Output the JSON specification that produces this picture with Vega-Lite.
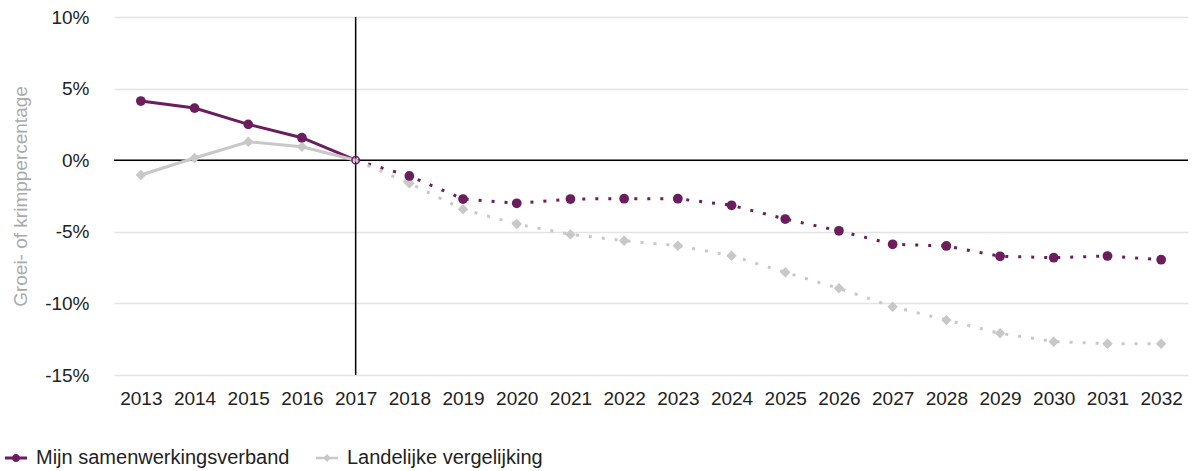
{
  "$schema": "https://vega.github.io/schema/vega-lite/v6.json",
  "autosize": "none",
  "width": 1074,
  "height": 358,
  "padding": {"left": 114, "top": 17, "right": 7, "bottom": 96},
  "background": "white",
  "config": {
    "font": "Liberation Sans",
    "view": {"stroke": null},
    "axis": {"labelFont": "Liberation Sans", "titleFont": "Liberation Sans"},
    "legend": {"labelFont": "Liberation Sans"}
  },
  "data": {
    "values": [
      {"year": 2013, "series": "Mijn samenwerkingsverband", "value": 4.13},
      {"year": 2014, "series": "Mijn samenwerkingsverband", "value": 3.64},
      {"year": 2015, "series": "Mijn samenwerkingsverband", "value": 2.5},
      {"year": 2016, "series": "Mijn samenwerkingsverband", "value": 1.57},
      {"year": 2017, "series": "Mijn samenwerkingsverband", "value": 0},
      {"year": 2018, "series": "Mijn samenwerkingsverband", "value": -1.1},
      {"year": 2019, "series": "Mijn samenwerkingsverband", "value": -2.71},
      {"year": 2020, "series": "Mijn samenwerkingsverband", "value": -3.01},
      {"year": 2021, "series": "Mijn samenwerkingsverband", "value": -2.71},
      {"year": 2022, "series": "Mijn samenwerkingsverband", "value": -2.69},
      {"year": 2023, "series": "Mijn samenwerkingsverband", "value": -2.69},
      {"year": 2024, "series": "Mijn samenwerkingsverband", "value": -3.15},
      {"year": 2025, "series": "Mijn samenwerkingsverband", "value": -4.11},
      {"year": 2026, "series": "Mijn samenwerkingsverband", "value": -4.93},
      {"year": 2027, "series": "Mijn samenwerkingsverband", "value": -5.87},
      {"year": 2028, "series": "Mijn samenwerkingsverband", "value": -5.99},
      {"year": 2029, "series": "Mijn samenwerkingsverband", "value": -6.71},
      {"year": 2030, "series": "Mijn samenwerkingsverband", "value": -6.81},
      {"year": 2031, "series": "Mijn samenwerkingsverband", "value": -6.69},
      {"year": 2032, "series": "Mijn samenwerkingsverband", "value": -6.95},
      {"year": 2013, "series": "Landelijke vergelijking", "value": -1.03},
      {"year": 2014, "series": "Landelijke vergelijking", "value": 0.15},
      {"year": 2015, "series": "Landelijke vergelijking", "value": 1.29},
      {"year": 2016, "series": "Landelijke vergelijking", "value": 0.94},
      {"year": 2017, "series": "Landelijke vergelijking", "value": 0},
      {"year": 2018, "series": "Landelijke vergelijking", "value": -1.61},
      {"year": 2019, "series": "Landelijke vergelijking", "value": -3.43},
      {"year": 2020, "series": "Landelijke vergelijking", "value": -4.46},
      {"year": 2021, "series": "Landelijke vergelijking", "value": -5.18},
      {"year": 2022, "series": "Landelijke vergelijking", "value": -5.62},
      {"year": 2023, "series": "Landelijke vergelijking", "value": -5.97},
      {"year": 2024, "series": "Landelijke vergelijking", "value": -6.67},
      {"year": 2025, "series": "Landelijke vergelijking", "value": -7.83},
      {"year": 2026, "series": "Landelijke vergelijking", "value": -8.95},
      {"year": 2027, "series": "Landelijke vergelijking", "value": -10.23},
      {"year": 2028, "series": "Landelijke vergelijking", "value": -11.16},
      {"year": 2029, "series": "Landelijke vergelijking", "value": -12.09},
      {"year": 2030, "series": "Landelijke vergelijking", "value": -12.67},
      {"year": 2031, "series": "Landelijke vergelijking", "value": -12.81},
      {"year": 2032, "series": "Landelijke vergelijking", "value": -12.81}
    ]
  },
  "encoding": {
    "x": {
      "field": "year", "type": "ordinal",
      "scale": {"type": "point", "padding": 0.5},
      "axis": {
        "title": null, "labelAngle": 0, "labelFontSize": 19, "labelColor": "#222",
        "labelPadding": 14, "ticks": false, "domain": false, "grid": false
      }
    },
    "y": {
      "field": "value", "type": "quantitative",
      "scale": {"domain": [-15, 10], "nice": false, "zero": false},
      "axis": {
        "title": "Groei- of krimppercentage", "titleColor": "#aaaaaa", "titleFontSize": 19,
        "titleFontWeight": "normal", "titlePadding": 14,
        "values": [-15, -10, -5, 0, 5, 10], "labelExpr": "datum.value + '%'",
        "labelFontSize": 19, "labelColor": "#222", "labelPadding": 25,
        "ticks": false, "domain": false, "grid": true, "gridColor": "#e3e3e3", "gridWidth": 1.5
      }
    }
  },
  "layer": [
    {
      "data": {"values": [{"zero": 0}]},
      "mark": {"type": "rule", "color": "black", "strokeWidth": 1.5},
      "encoding": {"y": {"field": "zero", "type": "quantitative"}, "x": null}
    },
    {
      "data": {"values": [{"year": 2017}]},
      "mark": {"type": "rule", "color": "black", "strokeWidth": 1.5},
      "encoding": {"x": {"field": "year", "type": "ordinal"}, "y": null}
    },
    {
      "transform": [{"filter": "datum.year <= 2017"}],
      "mark": {"type": "line", "strokeWidth": 3},
      "encoding": {
        "detail": {"field": "series"},
        "color": {
          "field": "series", "type": "nominal",
          "scale": {"domain": ["Mijn samenwerkingsverband", "Landelijke vergelijking"], "range": ["#6b1d5e", "#c8c8c8"]},
          "legend": {
            "title": null, "orient": "none", "direction": "horizontal",
            "legendX": -109, "legendY": 430,
            "labelFontSize": 20, "labelColor": "#222", "labelOffset": 9, "labelLimit": 0,
            "columnPadding": 26, "padding": 0, "symbolSize": 484,
            "encode": {
              "symbols": {
                "update": {
                  "shape": {"signal": "datum.value === 'Mijn samenwerkingsverband' ? 'M-1,-0.14H1V0.14H-1Z M-0.36,0A0.36,0.36,0,1,1,0.36,0A0.36,0.36,0,1,1,-0.36,0Z' : 'M-1,-0.12H1V0.12H-1Z M0,-0.36L0.36,0L0,0.36L-0.36,0Z'"},
                  "fill": {"signal": "scale('color', datum.value)"},
                  "fillOpacity": {"value": 1},
                  "strokeWidth": {"value": 0},
                  "strokeDash": {"value": []}
                }
              }
            }
          }
        }
      }
    },
    {
      "transform": [{"filter": "datum.year >= 2017"}],
      "mark": {"type": "line", "strokeWidth": 3, "strokeDash": [3, 10]},
      "encoding": {
        "detail": {"field": "series"},
        "color": {"field": "series", "type": "nominal"}
      }
    },
    {
      "transform": [{"filter": "datum.series === 'Landelijke vergelijking' && datum.year !== 2017"}],
      "mark": {"type": "point", "shape": "diamond", "filled": true, "size": 110, "opacity": 1},
      "encoding": {"color": {"field": "series", "type": "nominal"}}
    },
    {
      "transform": [{"filter": "datum.series === 'Mijn samenwerkingsverband' && datum.year !== 2017"}],
      "mark": {"type": "point", "shape": "circle", "filled": true, "size": 95, "opacity": 1},
      "encoding": {"color": {"field": "series", "type": "nominal"}}
    },
    {
      "transform": [{"filter": "datum.series === 'Mijn samenwerkingsverband' && datum.year === 2017"}],
      "mark": {"type": "point", "shape": "circle", "filled": false, "size": 55, "strokeWidth": 1.5, "opacity": 1},
      "encoding": {"color": {"field": "series", "type": "nominal"}}
    }
  ]
}
